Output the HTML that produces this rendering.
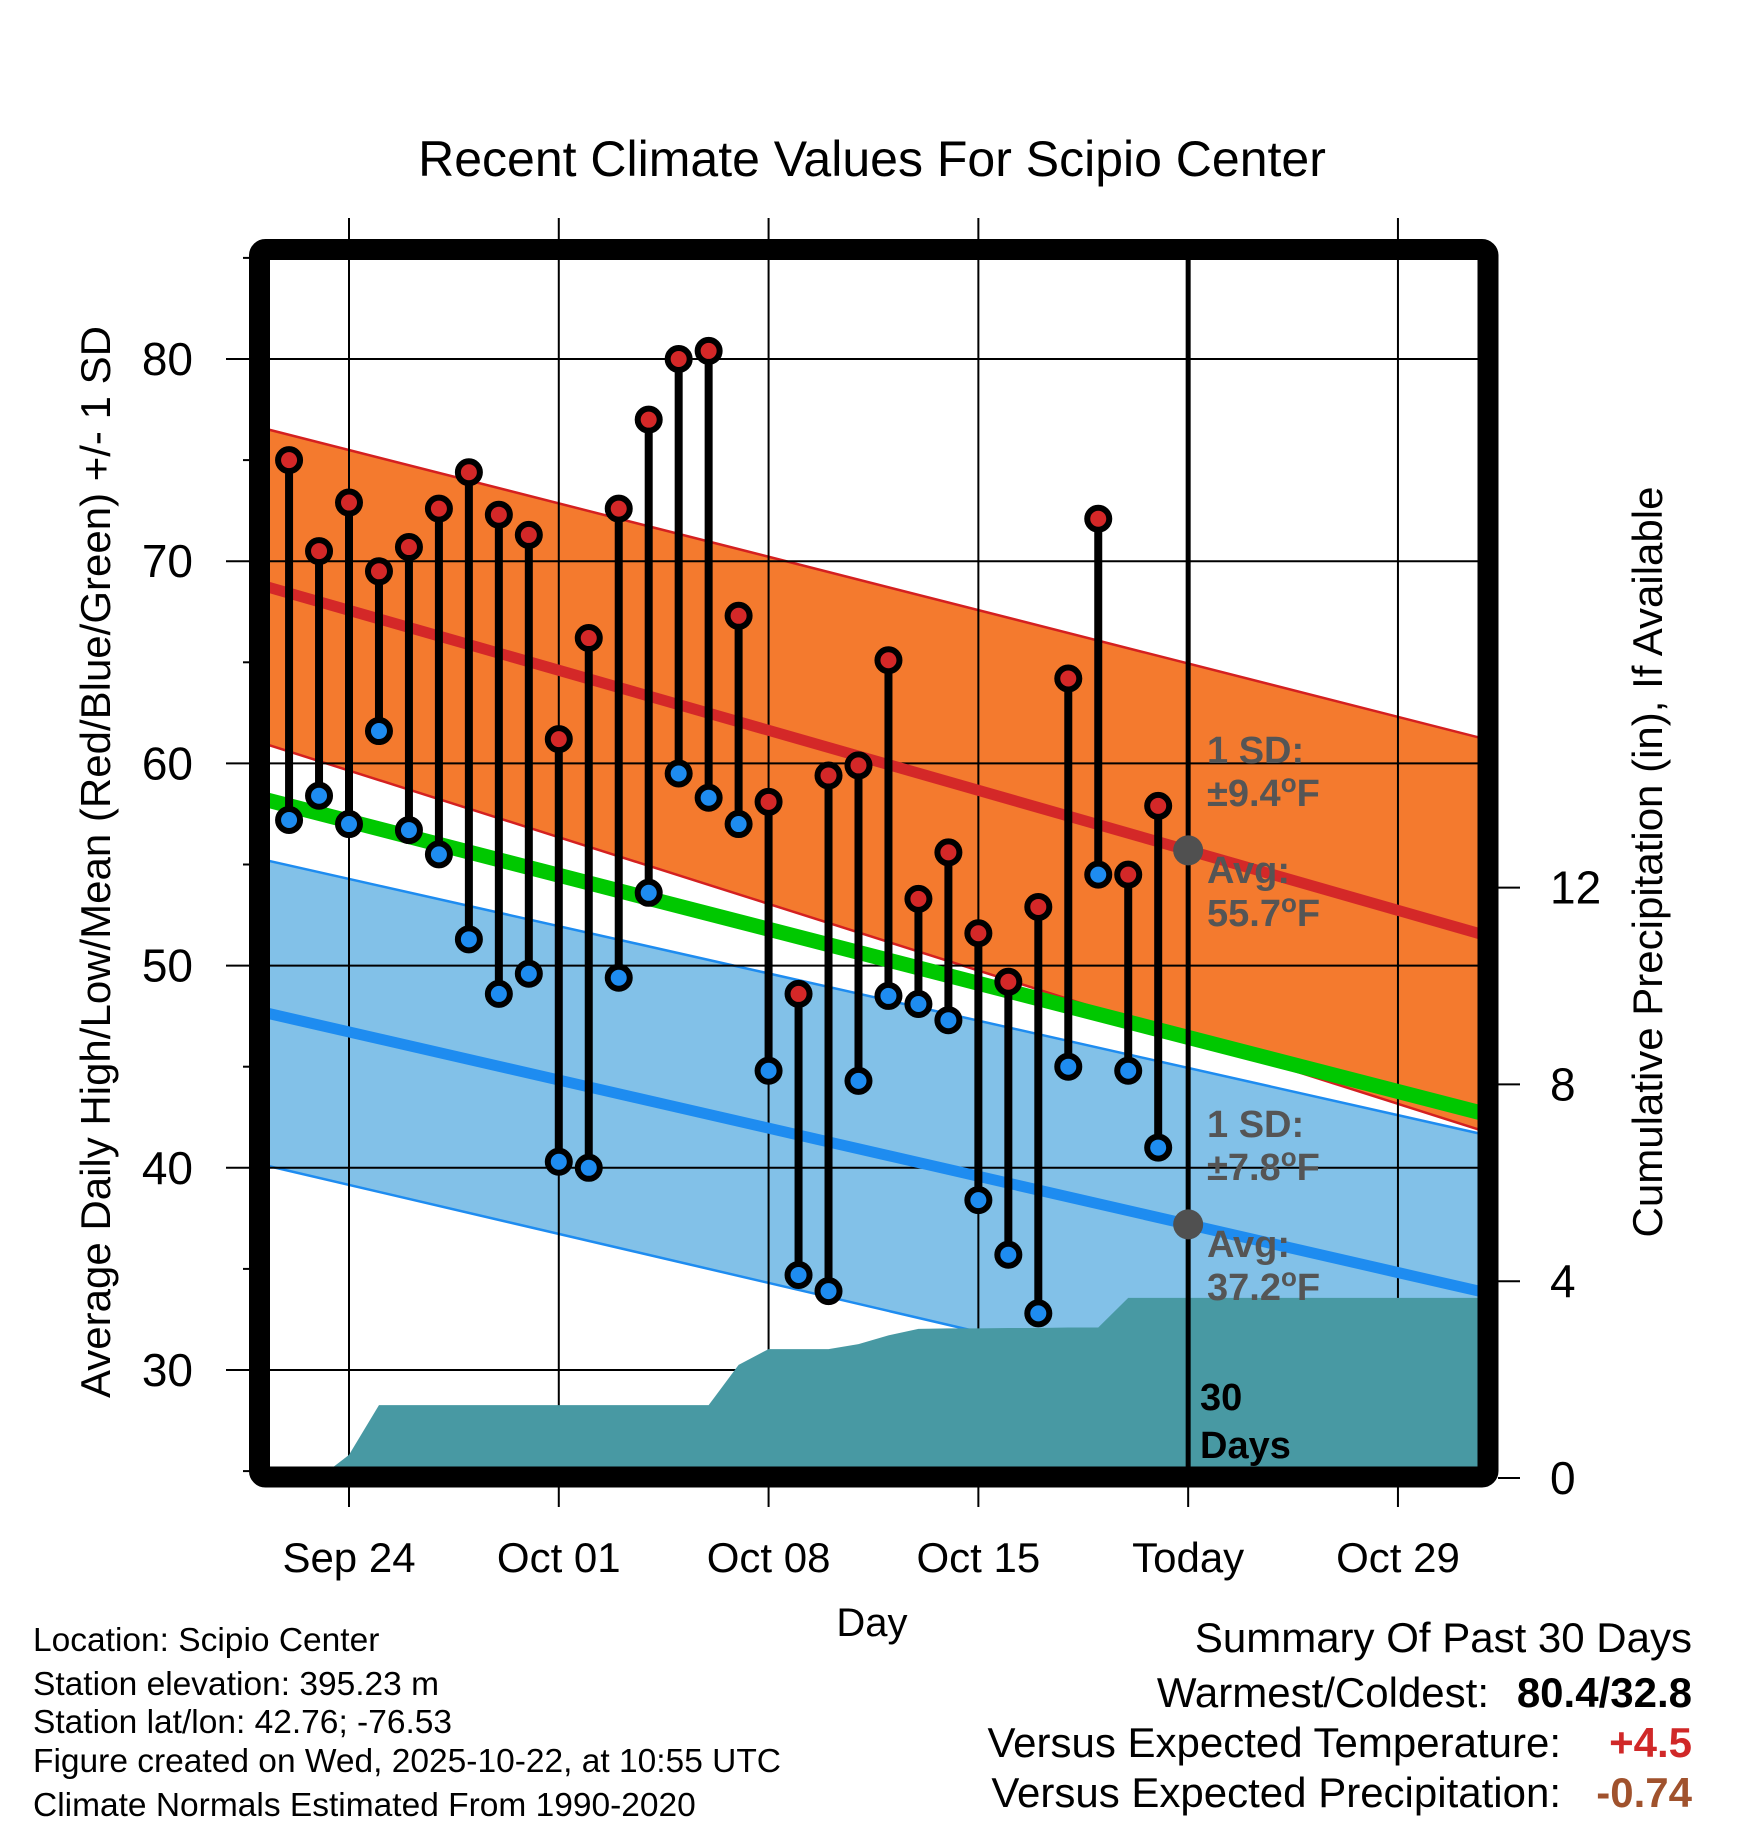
<!DOCTYPE html>
<html><head><meta charset="utf-8"><style>
html,body{margin:0;padding:0;background:#fff;}
svg{display:block;font-family:"Liberation Sans",Arial,sans-serif;}
</style></head><body>
<svg id="chart" width="1748" height="1828" viewBox="0 0 1748 1828" xmlns="http://www.w3.org/2000/svg">
<defs><clipPath id="inner"><rect x="270" y="260" width="1208" height="1207"/></clipPath></defs>
<rect width="1748" height="1828" fill="#fff"/>
<text x="872" y="176" font-size="50" text-anchor="middle">Recent Climate Values For Scipio Center</text>
<g id="bands" clip-path="url(#inner)"></g>
<g id="grid"></g>
<g id="normals" clip-path="url(#inner)"></g>
<g id="precip" clip-path="url(#inner)"></g>
<g id="marks"></g>
<g id="frame"></g>
<g id="labels"></g>
<text transform="translate(110,862) rotate(-90)" font-size="42" text-anchor="middle">Average Daily High/Low/Mean (Red/Blue/Green) +/- 1 SD</text>
<text transform="translate(1662,862) rotate(-90)" font-size="42" text-anchor="middle">Cumulative Precipitation (in), If Available</text>
<text x="872" y="1636" font-size="40" text-anchor="middle">Day</text>
<g font-size="33.5">
<text x="33" y="1651">Location: Scipio Center</text>
<text x="33" y="1695">Station elevation: 395.23 m</text>
<text x="33" y="1733">Station lat/lon: 42.76; -76.53</text>
<text x="33" y="1772">Figure created on Wed, 2025-10-22, at 10:55 UTC</text>
<text x="33" y="1816">Climate Normals Estimated From 1990-2020</text>
</g>
<g font-size="42" text-anchor="end">
<text x="1692" y="1652">Summary Of Past 30 Days</text>
<text x="1489" y="1707">Warmest/Coldest:</text>
<text x="1692" y="1707" font-weight="bold">80.4/32.8</text>
<text x="1561" y="1757">Versus Expected Temperature:</text>
<text x="1692" y="1757" font-weight="bold" fill="#d02828">+4.5</text>
<text x="1561" y="1807">Versus Expected Precipitation:</text>
<text x="1692" y="1807" font-weight="bold" fill="#a0522d">-0.74</text>
</g>
</svg>
<script>
// Data (day offset relative to Sep 24)
const dayOffsets = [-2,-1,0,1,2,3,4,5,6,7,8,9,10,11,12,13,14,15,16,17,18,19,20,21,22,23,24,25,26,27];
const highs = [75.0,70.5,72.9,69.5,70.7,72.6,74.4,72.3,71.3,61.2,66.2,72.6,77.0,80.0,80.4,67.3,58.1,48.6,59.4,59.9,65.1,53.3,55.6,51.6,49.2,52.9,64.2,72.1,54.5,57.9];
const lows  = [57.2,58.4,57.0,61.6,56.7,55.5,51.3,48.6,49.6,40.3,40.0,49.4,53.6,59.5,58.3,57.0,44.8,34.7,33.9,44.3,48.5,48.1,47.3,38.4,35.7,32.8,45.0,54.5,44.8,41.0];
const precipCum = [0,0,0.47,1.48,1.48,1.48,1.48,1.48,1.48,1.48,1.48,1.48,1.48,1.48,1.48,2.3,2.62,2.62,2.62,2.72,2.9,3.03,3.04,3.04,3.05,3.05,3.06,3.06,3.66,3.66];
const xTickLabels = ["Sep 24","Oct 01","Oct 08","Oct 15","Today","Oct 29"];
const xTickDays = [0,7,14,21,28,35];
const yTicks = [30,40,50,60,70,80];
const yMinor = [25,35,45,55,65,75,85];
const pTicks = [0,4,8,12];
const todayDay = 28;
const avgHighToday = 55.7, sdHigh = 9.4, avgLowToday = 37.2, sdLow = 7.8;
const sdHighStart = 7.8, sdHighEnd = 9.7, sdLowStart = 7.55, sdLowEnd = 7.8;
const slopeHigh = -0.424, slopeLow = -0.34;

const NS = "http://www.w3.org/2000/svg";
const X = d => 349 + d*29.97;
const Y = t => 359 + (80-t)*20.22;
const YP = p => 1478 - p*49.2;
const dL = -2.7, dR = 37.8;
function mk(parent, tag, attrs){const e=document.createElementNS(NS,tag);for(const k in attrs)e.setAttribute(k,attrs[k]);document.getElementById(parent).appendChild(e);return e;}
const aH = d => avgHighToday + (d-todayDay)*slopeHigh;
const aL = d => avgLowToday + (d-todayDay)*slopeLow;

// bands
function band(f, s0, s1, fill, edge, name){
  const pts = [[dL,f(dL)+s0],[dR,f(dR)+s1],[dR,f(dR)-s1],[dL,f(dL)-s0]].map(p=>X(p[0])+","+Y(p[1])).join(" ");
  let e = mk("bands","polygon",{points:pts,fill:fill});
  
  
  [1,-1].forEach(s=>{
    let l = mk("bands","line",{x1:X(dL),y1:Y(f(dL)+s*s0),x2:X(dR),y2:Y(f(dR)+s*s1),stroke:edge,"stroke-width":2.5});
    
    
  });
}
band(aL, sdLowStart, sdLowEnd, "#82c1e8", "#1e8cf0", "low-sd-band");
band(aH, sdHighStart, sdHighEnd, "#f47a2e", "#d42020", "high-sd-band");

// grid
yTicks.forEach(t=>{
  let l = mk("grid","line",{x1:226,y1:Y(t),x2:1478,y2:Y(t),stroke:"#000","stroke-width":2});
  
  
  let tx = mk("labels","text",{x:193,y:Y(t)+16,"font-size":46,"text-anchor":"end"});
  tx.textContent = t;
  
  
});
yMinor.forEach(t=>{
  let l = mk("grid","line",{x1:243,y1:Y(t),x2:252,y2:Y(t),stroke:"#000","stroke-width":2});
  
  
});
xTickDays.forEach((d,i)=>{
  if(d!==todayDay){
    let l = mk("grid","line",{x1:X(d),y1:218,x2:X(d),y2:1507,stroke:"#000","stroke-width":2});
    
    
  } else {
    let l = mk("grid","line",{x1:X(d),y1:1487,x2:X(d),y2:1507,stroke:"#000","stroke-width":2});
    
    
  }
  let tx = mk("labels","text",{x:X(d),y:1572,"font-size":42,"text-anchor":"middle"});
  tx.textContent = xTickLabels[i];
  
  
});
pTicks.forEach(p=>{
  let l = mk("grid","line",{x1:1498,y1:YP(p),x2:1520,y2:YP(p),stroke:"#000","stroke-width":2});
  
  
  let tx = mk("labels","text",{x:1550,y:YP(p)+16,"font-size":46});
  tx.textContent = p;
  
  
});

// normal lines
function nline(f, col, w, name){
  let l = mk("normals","line",{x1:X(dL),y1:Y(f(dL)),x2:X(dR),y2:Y(f(dR)),stroke:col,"stroke-width":w});
  
  
}
nline(d=>(aH(d)+aL(d))/2, "#00c800", 15, "mean-normal-line");
nline(aH, "#d42828", 11, "avg-high-line");
nline(aL, "#1e8cf0", 11, "avg-low-line");

// precip area
let pp = [X(dL)+","+1500];
dayOffsets.forEach((d,i)=>pp.push(X(d)+","+YP(precipCum[i])));
pp.push(X(dR)+","+YP(precipCum[precipCum.length-1]));
pp.push(X(dR)+","+1500);
let pa = mk("precip","polygon",{points:pp.join(" "),fill:"#4899a3"});



// today line
let tl = mk("marks","line",{x1:X(todayDay),y1:260,x2:X(todayDay),y2:1467,stroke:"#000","stroke-width":5});



// stems + points
dayOffsets.forEach((d,i)=>{
  let s = mk("marks","line",{x1:X(d),y1:Y(highs[i]),x2:X(d),y2:Y(lows[i]),stroke:"#000","stroke-width":8});
  
  
});
dayOffsets.forEach((d,i)=>{
  let h = mk("marks","circle",{cx:X(d),cy:Y(highs[i]),r:11,fill:"#d42828",stroke:"#000","stroke-width":6});
  
  
  let l = mk("marks","circle",{cx:X(d),cy:Y(lows[i]),r:11,fill:"#1e8cf0",stroke:"#000","stroke-width":6});
  
  
});
[avgHighToday, avgLowToday].forEach(v=>{
  let c = mk("marks","circle",{cx:X(todayDay),cy:Y(v),r:15,fill:"#505050"});
  
  
});

// annotations
function ann(y, t1, t2, name){
  let g = mk("marks","text",{x:1207,y:y,"font-size":38,"font-weight":"bold",fill:"#555"});
  
  
  g.innerHTML = t1 + '<tspan x="1207" dy="43">' + t2 + '</tspan>';
}
ann(763, "1 SD:", "±"+sdHigh.toFixed(1)+'<tspan font-size="26" dy="-14">o</tspan><tspan dy="14">F</tspan>', "high-sd-label");
ann(883, "Avg:", avgHighToday.toFixed(1)+'<tspan font-size="26" dy="-14">o</tspan><tspan dy="14">F</tspan>', "high-avg-label");
ann(1137, "1 SD:", "±"+sdLow.toFixed(1)+'<tspan font-size="26" dy="-14">o</tspan><tspan dy="14">F</tspan>', "low-sd-label");
ann(1257, "Avg:", avgLowToday.toFixed(1)+'<tspan font-size="26" dy="-14">o</tspan><tspan dy="14">F</tspan>', "low-avg-label");
let dl = mk("marks","text",{x:1200,y:1410,"font-size":38,"font-weight":"bold",fill:"#000"});


dl.innerHTML = '30<tspan x="1200" dy="48">Days</tspan>';

// frame
let fr = mk("frame","rect",{x:259.5,y:249.5,width:1228.5,height:1227.5,fill:"none",stroke:"#000","stroke-width":21,rx:6});


</script>
</body></html>
